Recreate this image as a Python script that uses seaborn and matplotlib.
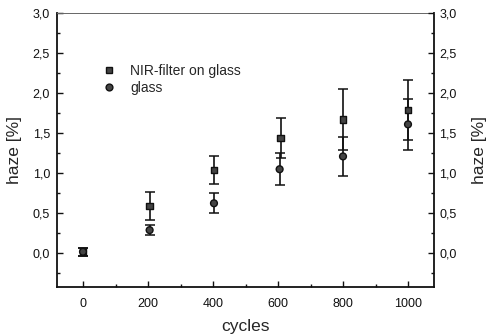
import numpy as np
import pandas as pd
import matplotlib
matplotlib.use("Agg")
import matplotlib.pyplot as plt
from matplotlib.ticker import MultipleLocator, FuncFormatter
import seaborn as sns

sns.set_style("ticks")
plt.rcParams["font.family"] = ["Liberation Sans", "DejaVu Sans"]

# ==================================================
# DATA
# ==================================================

cycles_nir = [0, 205, 403, 608, 800, 1000]
haze_nir = [0.02, 0.59, 1.04, 1.44, 1.67, 1.79]
err_nir = [0.05, 0.17, 0.17, 0.245, 0.38, 0.375]

cycles_glass = [0, 205, 403, 605, 800, 1000]
haze_glass = [0.02, 0.29, 0.625, 1.05, 1.21, 1.61]
err_glass = [0.05, 0.06, 0.125, 0.20, 0.24, 0.32]

nir = pd.DataFrame({"cycles": cycles_nir, "haze": haze_nir, "err": err_nir,
                    "sample": "NIR-filter on glass"})
glass = pd.DataFrame({"cycles": cycles_glass, "haze": haze_glass, "err": err_glass,
                      "sample": "glass"})
df = pd.concat([nir, glass], ignore_index=True)

# ==================================================
# PLOT
# ==================================================

fig = plt.figure(figsize=(4.86, 3.36), dpi=100)
ax = fig.add_axes([57 / 486, 1 - 287 / 336, (434 - 57) / 486, (287 - 13) / 336])

for part in (nir, glass):
    ax.errorbar(part["cycles"], part["haze"], yerr=part["err"], fmt="none",
                ecolor="#111111", elinewidth=1.2, capsize=3.8, capthick=1.1, zorder=2)

sns.scatterplot(
    data=df, x="cycles", y="haze", style="sample",
    markers={"NIR-filter on glass": "s", "glass": "o"},
    color="#444444", s=24, edgecolor="#111111", linewidth=1.0,
    ax=ax, zorder=3
)

ax.set_xlim(-80, 1080)
ax.set_ylim(-0.42, 3.0)
ax.xaxis.set_major_locator(MultipleLocator(200))
ax.xaxis.set_minor_locator(MultipleLocator(100))
ax.yaxis.set_major_locator(MultipleLocator(0.5))
ax.yaxis.set_minor_locator(MultipleLocator(0.25))
comma = FuncFormatter(lambda v, p: f"{v:.1f}".replace(".", ","))
ax.yaxis.set_major_formatter(comma)

ax.tick_params(which="both", direction="in", labelsize=9, width=1.0,
               colors="#111111")
ax.tick_params(which="major", length=4)
ax.tick_params(which="minor", length=2.5)
ax.tick_params(axis="x", pad=8)
ax.tick_params(axis="y", pad=5)
for s in ax.spines.values():
    s.set_linewidth(1.3)
    s.set_color("#111111")
ax.spines["top"].set_linewidth(0.7)
ax.spines["top"].set_color("#666666")

ax.set_xlabel("cycles", fontsize=12.5)
ax.set_ylabel("haze [%]", fontsize=12.5)
ax.xaxis.set_label_coords(0.5, -0.118)
ax.yaxis.set_label_coords(-0.092, 0.5)

ax2 = ax.twinx()
ax2.set_ylim(ax.get_ylim())
ax2.yaxis.set_major_locator(MultipleLocator(0.5))
ax2.yaxis.set_minor_locator(MultipleLocator(0.25))
ax2.yaxis.set_major_formatter(comma)
ax2.tick_params(which="both", direction="in", labelsize=9, width=1.0,
                colors="#111111", pad=4)
ax2.tick_params(which="major", length=4)
ax2.tick_params(which="minor", length=2.5)
for s in ax2.spines.values():
    s.set_visible(False)
ax2.set_ylabel("haze [%]", fontsize=12.5)
ax2.yaxis.set_label_coords(1.101, 0.5)

leg = ax.legend(loc="upper left", bbox_to_anchor=(0.105, 0.835), frameon=False,
                fontsize=10, handletextpad=1.0, labelspacing=0.25,
                borderaxespad=0, title=None, handlelength=1.0)

fig.savefig("out.png", dpi=100)
plt.close(fig)
